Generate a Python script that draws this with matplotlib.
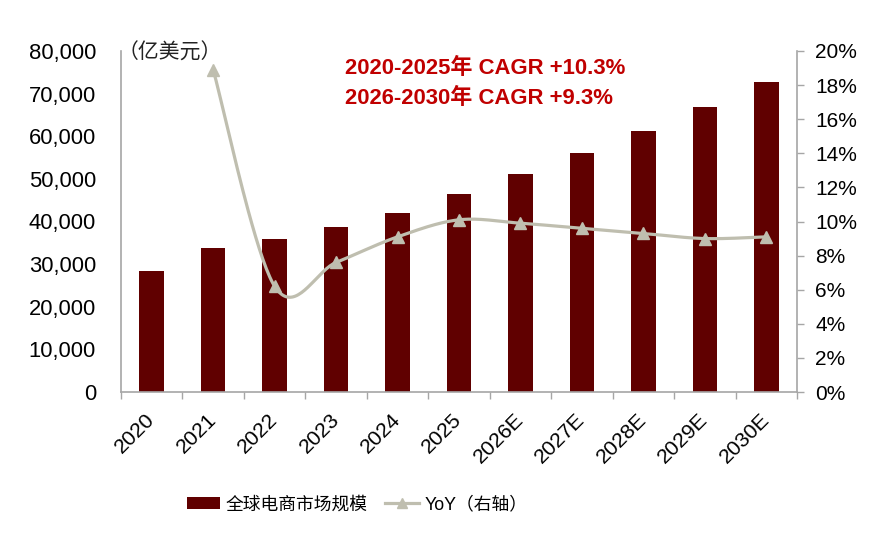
import numpy as np
import matplotlib
matplotlib.use("Agg")
import matplotlib.pyplot as plt
from matplotlib.ticker import FuncFormatter, MultipleLocator, FixedLocator
from matplotlib.lines import Line2D
from matplotlib.patches import Patch

plt.rcParams['font.family'] = ['Liberation Sans', 'Noto Sans CJK SC', 'DejaVu Sans']

years = ['2020', '2021', '2022', '2023', '2024', '2025',
         '2026E', '2027E', '2028E', '2029E', '2030E']
market = [28400, 33700, 35800, 38600, 42100, 46400,
          51100, 56000, 61200, 66800, 72800]
yoy = [None, 18.9, 6.2, 7.6, 9.1, 10.1, 9.9, 9.6, 9.3, 9.0, 9.1]

cagr_lines = ['2020-2025年 CAGR +10.3%', '2026-2030年 CAGR +9.3%']
bar_label = '全球电商市场规模'
line_label = 'YoY（右轴）'
unit_label = '（亿美元）'

BAR_C = '#600000'
LINE_C = '#BFBEAF'
SPINE_C = '#A6A6A6'
RED = '#C00000'

fig = plt.figure(figsize=(8.86, 5.44), dpi=100)
ax = fig.add_axes([121/886, 1-392/544, (797-121)/886, (392-51)/544])

x = np.arange(len(years))
ax.bar(x, market, width=0.40, color=BAR_C, zorder=2)
ax.set_xlim(-0.5, len(years)-0.5)
ax.set_ylim(0, 80000)
ax.yaxis.set_major_locator(MultipleLocator(10000))
ax.yaxis.set_major_formatter(FuncFormatter(lambda v, p: f"{int(v):,}"))
ax.tick_params(axis='y', length=0, pad=18, labelsize=15.8)

ax.set_xticks(x)
ax.set_xticklabels(years, rotation=45, ha='right', va='center', rotation_mode='anchor', fontsize=15.3)
ax.xaxis.set_minor_locator(FixedLocator(np.arange(-0.5, len(years), 1.0)))
ax.tick_params(axis='x', which='major', length=0, pad=18)
ax.tick_params(axis='x', which='minor', length=5, width=1, color=SPINE_C, direction='out')

for s in ['top', 'right']:
    ax.spines[s].set_visible(False)
for s in ['left', 'bottom']:
    ax.spines[s].set_color(SPINE_C)
    ax.spines[s].set_linewidth(1.2)

ax2 = ax.twinx()
ax2.set_ylim(0, 20)
ax2.yaxis.set_major_locator(MultipleLocator(2))
ax2.yaxis.set_major_formatter(FuncFormatter(lambda v, p: f"{int(round(v))}%"))
ax2.tick_params(axis='y', length=5, width=1, color=SPINE_C, pad=8, labelsize=15)
for s in ['top', 'left', 'bottom']:
    ax2.spines[s].set_visible(False)
ax2.spines['right'].set_color(SPINE_C)
ax2.spines['right'].set_linewidth(1.2)

# Smoothed line (Catmull-Rom style Bezier, as in spreadsheet "smooth line")
px = np.array([i for i, v in enumerate(yoy) if v is not None], dtype=float)
py = np.array([v for v in yoy if v is not None], dtype=float)
cx, cy = [], []
n = len(px)
t = np.linspace(0, 1, 40)
for i in range(n-1):
    p0 = np.array([px[max(i-1, 0)], py[max(i-1, 0)]])
    p1 = np.array([px[i], py[i]])
    p2 = np.array([px[i+1], py[i+1]])
    p3 = np.array([px[min(i+2, n-1)], py[min(i+2, n-1)]])
    c1 = p1 + (p2 - p0) / 6
    c2 = p2 - (p3 - p1) / 6
    b = ((1-t)**3)[:, None]*p1 + (3*(1-t)**2*t)[:, None]*c1 + (3*(1-t)*t**2)[:, None]*c2 + (t**3)[:, None]*p2
    cx.extend(b[:, 0]); cy.extend(b[:, 1])
ax2.plot(cx, cy, color=LINE_C, lw=2.3, zorder=3, solid_capstyle='round')
ax2.plot(px, py, linestyle='none', marker='^', markersize=9, color=LINE_C, zorder=4)

ax.text(-0.005, 0.994, unit_label, transform=ax.transAxes, ha='left', va='center',
        fontsize=15, color='#222222')
ax.text(0.331, 0.948, cagr_lines[0], transform=ax.transAxes, ha='left', va='center',
        fontsize=15.9, fontweight='bold', color=RED)
ax.text(0.331, 0.860, cagr_lines[1], transform=ax.transAxes, ha='left', va='center',
        fontsize=15.9, fontweight='bold', color=RED)

handles = [Patch(facecolor=BAR_C, edgecolor='none'),
           Line2D([0], [0], color=LINE_C, lw=2.3, marker='^', markersize=7)]
fig.legend(handles, [bar_label, line_label], loc='center', bbox_to_anchor=(0.403, 0.072),
           ncol=2, frameon=False, fontsize=12.8, handlelength=1.9, handleheight=0.7,
           handletextpad=0.3, columnspacing=1.0)

fig.savefig('out.png', dpi=100)
